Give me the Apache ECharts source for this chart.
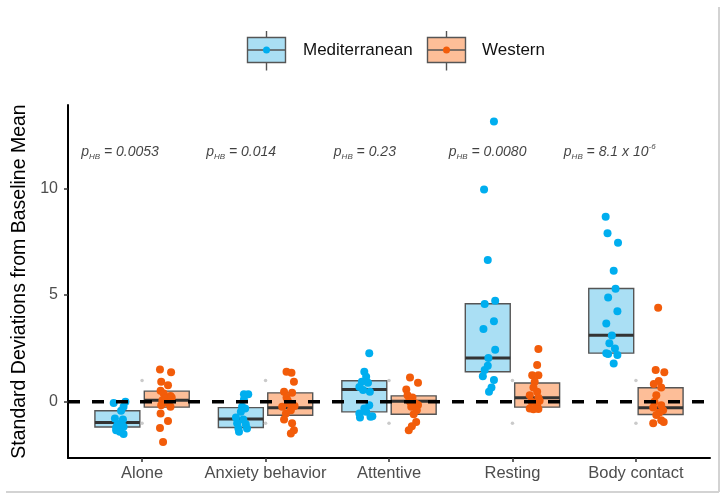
<!DOCTYPE html>
<html><head><meta charset="utf-8">
<script src="https://cdn.jsdelivr.net/npm/echarts@6/dist/echarts.min.js"></script>
<style>html,body{margin:0;padding:0;background:#fff}#c{width:726px;height:499px}</style>
</head><body><div id="c"></div>
<script>
// ---------- data ----------
const categories = ['Alone', 'Anxiety behavior', 'Attentive', 'Resting', 'Body contact'];
const groupNames = ['Mediterranean', 'Western'];
const yTicks = [0, 5, 10];
// box summaries [q1, median, q3]
const medBoxes  = [[-1.18, -0.97, -0.42], [-1.20, -0.80, -0.27], [-0.47, 0.58, 0.99], [1.41, 2.05, 4.59], [2.28, 3.12, 5.31]];
const westBoxes = [[-0.25, 0.08, 0.50], [-0.63, -0.28, 0.42], [-0.58, 0.03, 0.28], [-0.25, 0.19, 0.88], [-0.59, -0.28, 0.66]];
// individual points [jitter, value]
const medAlone = [[-0.03,-0.05],[0.065,0.0],[0.05,-0.23],[0.03,-0.42],[-0.02,-0.78],[0.045,-0.83],[0.03,-1.0],[0.0,-1.09],[0.05,-1.17],[-0.01,-1.33],[0.05,-1.51],[0.02,-1.40],[-0.01,-1.2]];
const westAlone = [[-0.055,1.52],[0.035,1.38],[-0.045,0.94],[0.01,0.78],[-0.05,0.52],[-0.025,0.39],[0.03,0.27],[-0.035,0.08],[0.01,-0.05],[-0.045,-0.16],[0.03,-0.23],[-0.01,0.15],[0.04,0.2],[-0.05,-0.55],[0.01,-0.9],[-0.055,-1.22],[-0.03,-1.88]];
const medAnxiety = [[0.025,0.35],[0.06,0.35],[0.025,0.11],[0.01,-0.23],[0.035,-0.31],[0.0,-0.47],[-0.04,-0.73],[0.02,-0.83],[-0.03,-1.0],[0.04,-1.05],[-0.02,-1.25],[0.05,-1.25],[-0.015,-1.4]];
const westAnxiety = [[-0.03,1.41],[0.01,1.36],[0.03,0.94],[-0.05,0.47],[0.015,0.42],[-0.03,0.2],[-0.02,0.05],[-0.01,-0.08],[-0.065,-0.23],[0.035,-0.2],[0.005,-0.39],[-0.035,-0.55],[-0.05,-0.83],[0.015,-1.0],[0.03,-1.33],[0.005,-1.48]];
const medAttentive = [[0.04,2.27],[0.0,1.41],[0.015,1.17],[-0.02,0.94],[0.03,0.89],[-0.04,0.70],[-0.01,0.55],[0.045,0.47],[0.04,-0.16],[0.0,-0.31],[0.015,-0.47],[-0.04,-0.55],[0.065,-0.67],[-0.035,-0.73],[0.05,-0.7]];
const westAttentive = [[-0.03,1.14],[0.035,0.89],[-0.06,0.58],[-0.05,0.31],[-0.01,0.2],[-0.035,0.1],[-0.03,0.0],[0.015,-0.08],[0.035,-0.15],[-0.02,-0.23],[0.025,-0.39],[0.0,-0.58],[0.02,-0.94],[-0.015,-1.14],[-0.04,-1.33]];
const medResting = [[0.05,13.13],[-0.03,9.94],[0.0,6.64],[0.06,4.73],[-0.025,4.58],[0.05,3.77],[-0.035,3.41],[0.06,2.44],[0.005,2.05],[0.0,1.69],[-0.025,1.49],[-0.04,1.2],[0.05,1.02],[0.03,0.67],[0.01,0.47]];
const westResting = [[0.01,2.47],[0.0,1.72],[-0.04,1.24],[0.01,1.24],[-0.02,0.94],[-0.03,0.67],[0.0,0.47],[-0.06,0.31],[0.01,0.19],[0.02,0.05],[-0.045,0.0],[0.0,-0.16],[-0.06,-0.31],[0.01,-0.33],[-0.03,-0.35]];
const medBody = [[-0.045,8.67],[-0.03,7.89],[0.055,7.45],[0.02,6.14],[0.035,5.30],[-0.025,4.89],[0.05,4.24],[-0.04,3.67],[0.005,3.11],[-0.015,2.74],[0.03,2.5],[-0.04,2.27],[-0.025,2.24],[0.05,2.19],[0.02,1.80]];
const westBody = [[-0.02,4.41],[-0.04,1.49],[0.03,1.38],[-0.015,0.97],[-0.055,0.83],[0.005,0.67],[-0.035,0.31],[-0.05,0.0],[0.005,-0.16],[-0.06,-0.27],[0.02,-0.39],[-0.01,-0.5],[-0.035,-0.62],[0.005,-0.86],[0.025,-0.95],[-0.06,-1.0]];
// faint reference points per category
const refValues = [1, -1];
// adjusted p-values
const pValues = ['0.0053', '0.014', '0.23', '0.0080', '8.1 x 10'];
const pExponents = ['', '', '', '', '-6'];
const pLabelY = 11.7;

// ---------- layout / style ----------
const medPoints = [medAlone, medAnxiety, medAttentive, medResting, medBody];
const westPoints = [westAlone, westAnxiety, westAttentive, westResting, westBody];
const pLabelOffset = [-0.497, -0.485, -0.451, -0.52, -0.588];
const DODGE = 0.2, HALF = 0.182;
const C = {
  medFill: '#AADFF4', medPt: '#00AEEF',
  westFill: '#FDBE98', westPt: '#F25C0A',
  boxLine: '#555555', median: '#333333'
};
const FONT = '"Liberation Sans", Arial, Helvetica, sans-serif';

function boxRenderer(fill) {
  return function (params, api) {
    const x = api.value(0), q1 = api.value(1), md = api.value(2), q3 = api.value(3);
    const tl = api.coord([x - HALF, q3]);
    const br = api.coord([x + HALF, q1]);
    const ml = api.coord([x - HALF, md]);
    const mr = api.coord([x + HALF, md]);
    return {
      type: 'group',
      children: [
        { type: 'rect', shape: { x: tl[0], y: tl[1], width: br[0] - tl[0], height: br[1] - tl[1] },
          style: { fill: fill, stroke: C.boxLine, lineWidth: 1.4 } },
        { type: 'line', shape: { x1: ml[0], y1: ml[1], x2: mr[0], y2: mr[1] },
          style: { stroke: C.median, lineWidth: 3 } }
      ]
    };
  };
}

const medBoxData = medBoxes.map((b, i) => [i - DODGE, b[0], b[1], b[2]]);
const westBoxData = westBoxes.map((b, i) => [i + DODGE, b[0], b[1], b[2]]);
const medPtData = [], westPtData = [];
medPoints.forEach((arr, i) => arr.forEach(p => medPtData.push([i - DODGE + p[0], p[1]])));
westPoints.forEach((arr, i) => arr.forEach(p => westPtData.push([i + DODGE + p[0], p[1]])));
const refData = [];
categories.forEach((c, i) => refValues.forEach(v => refData.push([i, v])));
const pData = pValues.map((p, i) => ({ value: [i + pLabelOffset[i], pLabelY], p: p, e: pExponents[i] }));

const chart = echarts.init(document.getElementById('c'), null, { renderer: 'canvas' });
chart.setOption({
  animation: false,
  backgroundColor: '#ffffff',
  textStyle: { fontFamily: FONT },
  grid: { left: 68, right: 16, top: 105, bottom: 41, containLabel: false },
  xAxis: {
    type: 'value', min: -0.6, max: 4.6,
    splitLine: { show: false },
    axisLine: { show: true, onZero: false, lineStyle: { color: '#000', width: 2 } },
    axisTick: { show: true, length: 4, customValues: categories.map((c, i) => i), lineStyle: { color: '#333', width: 1.5 } },
    axisLabel: { customValues: categories.map((c, i) => i), formatter: v => categories[Math.round(v)] || '',
      color: '#4d4d4d', fontSize: 16.5, margin: 7, fontFamily: FONT }
  },
  yAxis: {
    type: 'value', min: -2.63, max: 13.9,
    name: 'Standard Deviations from Baseline Mean', nameLocation: 'middle', nameGap: 34,
    nameTextStyle: { color: '#000', fontSize: 19.5, fontFamily: FONT },
    splitLine: { show: false },
    axisLine: { show: true, onZero: false, lineStyle: { color: '#000', width: 2 } },
    axisTick: { show: true, length: 4, customValues: yTicks, lineStyle: { color: '#333', width: 1.5 } },
    axisLabel: { customValues: yTicks, color: '#4d4d4d', fontSize: 16, margin: 10, fontFamily: FONT }
  },
  series: [
    { name: groupNames[0] + ' box', type: 'custom', renderItem: boxRenderer(C.medFill), data: medBoxData, z: 2, silent: true },
    { name: groupNames[1] + ' box', type: 'custom', renderItem: boxRenderer(C.westFill), data: westBoxData, z: 2, silent: true },
    { name: 'ref', type: 'scatter', data: refData, symbolSize: 3.5, itemStyle: { color: '#bdbdbd' }, z: 3, silent: true },
    { name: groupNames[0], type: 'scatter', data: medPtData, symbolSize: 8, itemStyle: { color: C.medPt, opacity: 1 }, z: 4 },
    { name: groupNames[1], type: 'scatter', data: westPtData, symbolSize: 8, itemStyle: { color: C.westPt, opacity: 1 }, z: 4 },
    { name: 'baseline', type: 'line', data: [[-0.6, 0], [4.6, 0]], symbol: 'none', silent: true, z: 5,
      lineStyle: { color: '#000', width: 3.5, type: [12, 12] } },
    { name: 'p', type: 'scatter', data: pData, symbolSize: 1, itemStyle: { color: 'transparent' }, z: 6, silent: true,
      label: {
        show: true, position: 'right', distance: 0,
        formatter: prm => '{p|p}{s|HB}{t| = ' + prm.data.p + '}' + (prm.data.e ? '{e|' + prm.data.e + '}' : ''),
        rich: {
          p: { fontSize: 14, fontStyle: 'italic', color: '#111', fontFamily: FONT, lineHeight: 18, verticalAlign: 'middle' },
          s: { fontSize: 8, fontStyle: 'italic', color: '#111', fontFamily: FONT, lineHeight: 18, verticalAlign: 'bottom' },
          t: { fontSize: 14, fontStyle: 'italic', color: '#111', fontFamily: FONT, lineHeight: 18, verticalAlign: 'middle' },
          e: { fontSize: 8, fontStyle: 'italic', color: '#111', fontFamily: FONT, lineHeight: 18, verticalAlign: 'top' }
        }
      }
    }
  ],
  graphic: [
    // frame lines
    { type: 'line', shape: { x1: 719, y1: 7, x2: 719, y2: 492 }, style: { stroke: '#d3d3d3', lineWidth: 2 }, silent: true },
    { type: 'line', shape: { x1: 6, y1: 492, x2: 719, y2: 492 }, style: { stroke: '#d3d3d3', lineWidth: 2 }, silent: true },
    // legend: Mediterranean
    { type: 'line', shape: { x1: 266.5, y1: 31, x2: 266.5, y2: 70.5 }, style: { stroke: C.boxLine, lineWidth: 1.4 } },
    { type: 'rect', shape: { x: 247.5, y: 37.5, width: 38, height: 25 }, style: { fill: C.medFill, stroke: C.boxLine, lineWidth: 1.4 } },
    { type: 'line', shape: { x1: 247.5, y1: 50, x2: 285.5, y2: 50 }, style: { stroke: C.boxLine, lineWidth: 1.4 } },
    { type: 'circle', shape: { cx: 266.5, cy: 50, r: 3.5 }, style: { fill: C.medPt } },
    { type: 'text', x: 303, y: 50, style: { text: groupNames[0], fontSize: 17, fontFamily: FONT, fill: '#111', verticalAlign: 'middle', align: 'left' } },
    // legend: Western
    { type: 'line', shape: { x1: 446.5, y1: 31, x2: 446.5, y2: 70.5 }, style: { stroke: C.boxLine, lineWidth: 1.4 } },
    { type: 'rect', shape: { x: 427.5, y: 37.5, width: 38, height: 25 }, style: { fill: C.westFill, stroke: C.boxLine, lineWidth: 1.4 } },
    { type: 'line', shape: { x1: 427.5, y1: 50, x2: 465.5, y2: 50 }, style: { stroke: C.boxLine, lineWidth: 1.4 } },
    { type: 'circle', shape: { cx: 446.5, cy: 50, r: 3.5 }, style: { fill: C.westPt } },
    { type: 'text', x: 482, y: 50, style: { text: groupNames[1], fontSize: 17, fontFamily: FONT, fill: '#111', verticalAlign: 'middle', align: 'left' } }
  ]
});
</script>
</body></html>
